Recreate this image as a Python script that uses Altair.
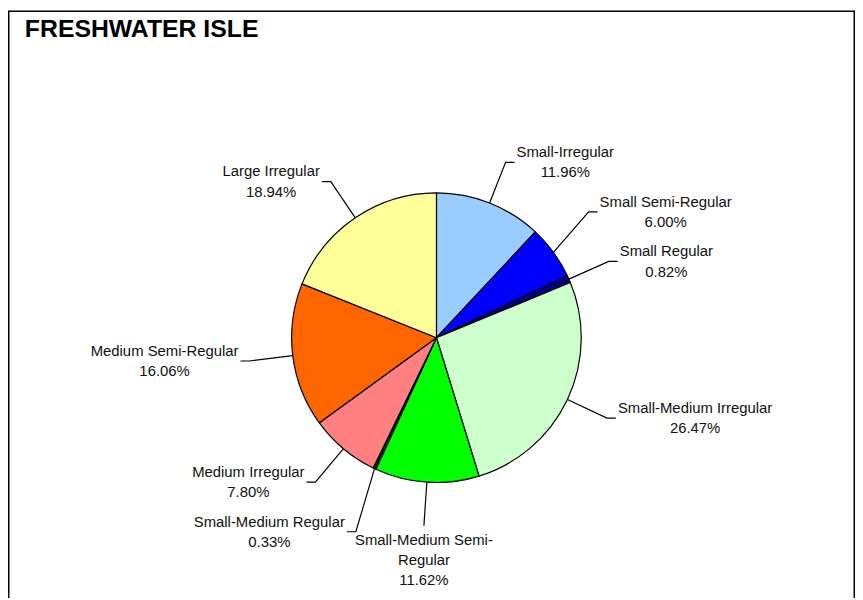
import math
import altair as alt
import pandas as pd

# ---- data ----
categories = [
    "Small-Irregular", "Small Semi-Regular", "Small Regular",
    "Small-Medium Irregular", "Small-Medium Semi-Regular", "Small-Medium Regular",
    "Medium Irregular", "Medium Semi-Regular", "Large Irregular",
]
shares = [11.96, 6.00, 0.82, 26.47, 11.62, 0.33, 7.80, 16.06, 18.94]
colors = ["#99CCFF", "#0000FF", "#000080", "#CCFFCC", "#00FF00", "#003300",
          "#FF8080", "#FF6600", "#FFFF99"]
title_text = "FRESHWATER ISLE"

# ---- layout / style ----
W, H = 854, 590
CX, CY, R = 432, 330, 146
RB = 190        # leader bend radius
TICK = 9        # horizontal leader tick
SEP = 50        # min vertical spacing of label blocks
FS = 15
LH = 20.5
FONT = "Liberation Sans, Arial, sans-serif"

ARIAL = {
    'a': 556, 'b': 556, 'c': 500, 'd': 556, 'e': 556, 'f': 278, 'g': 556, 'h': 556,
    'i': 222, 'j': 222, 'k': 500, 'l': 222, 'm': 833, 'n': 556, 'o': 556, 'p': 556,
    'q': 556, 'r': 333, 's': 500, 't': 278, 'u': 556, 'v': 500, 'w': 722, 'x': 500,
    'y': 500, 'z': 500, ' ': 278, '-': 333, '.': 278, '%': 889,
    'S': 667, 'M': 833, 'L': 556, 'I': 278, 'R': 722,
}


def text_w(s):
    return sum(ARIAL.get(ch, 556 if ch.isdigit() else 667) for ch in s) / 1000 * FS


total = sum(shares)
rows = []
cum = 0.0
for i, (c, v) in enumerate(zip(categories, shares)):
    mid = (cum + v / 2) / total * 2 * math.pi
    cum += v
    s, co = math.sin(mid), math.cos(mid)
    side = 1 if s > 0.2 else (-1 if s < -0.2 else 0)
    rows.append(dict(idx=i, cat=c, share=v, s=s, co=co, side=side,
                     ex=CX + R * s, ey=CY - R * co,
                     bx=CX + RB * s, by=CY - RB * co))

# simple vertical relaxation of labels on each side
for sd in (1, -1):
    lower = sorted([r for r in rows if r["side"] == sd and r["by"] >= CY], key=lambda r: r["by"])
    for k in range(1, len(lower)):
        if lower[k]["by"] < lower[k - 1]["by"] + SEP:
            lower[k]["by"] = lower[k - 1]["by"] + SEP
    upper = sorted([r for r in rows if r["side"] == sd and r["by"] < CY], key=lambda r: -r["by"])
    for k in range(1, len(upper)):
        if upper[k]["by"] > upper[k - 1]["by"] - SEP:
            upper[k]["by"] = upper[k - 1]["by"] - SEP

line_rows, text_rows = [], []
for r in rows:
    name = r["cat"]
    pct = f"{r['share']:.2f}%"
    if r["side"] == 0 and len(name) > 18 and "-" in name:
        cut = name.rfind("-") + 1
        lines = [name[:cut], name[cut:], pct]
    else:
        lines = [name, pct]
    n = len(lines)
    w = max(text_w(t) for t in lines)
    pts = [(r["ex"], r["ey"]), (r["bx"], r["by"])]
    if r["side"] != 0:
        pts.append((r["bx"] + r["side"] * TICK, r["by"]))
        tx = r["bx"] + r["side"] * (TICK + 2 + w / 2)
        ty = r["by"] - (n - 1) / 2 * LH      # first line position (block centred on tick)
    else:
        tx = r["bx"]
        ty = r["by"] + 14                    # block hangs below the leader
    for k, (px, py) in enumerate(pts):
        line_rows.append(dict(cat=r["cat"], pt=k, px=px, py=py))
    text_rows.append(dict(cat=r["cat"], label="\n".join(lines), tx=tx, ty=ty))

pie_df = pd.DataFrame([dict(idx=r["idx"], cat=r["cat"], share=r["share"]) for r in rows])
line_df = pd.DataFrame(line_rows)
text_df = pd.DataFrame(text_rows)
one = pd.DataFrame({"k": [0]})

frame = alt.Chart(one).mark_rect(fillOpacity=0, stroke="black", strokeWidth=1.5).encode(
    x=alt.value(0.75), x2=alt.value(W - 0.75), y=alt.value(0.75), y2=alt.value(H + 30)
)

title = alt.Chart(one).mark_text(
    text=title_text, font=FONT, fontSize=25, fontWeight="bold",
    align="left", baseline="alphabetic", color="black"
).encode(x=alt.value(17), y=alt.value(27))

pie = alt.Chart(pie_df).mark_arc(outerRadius=R, stroke="black", strokeWidth=1.2).encode(
    theta=alt.Theta("share:Q", stack=True),
    color=alt.Color("cat:N", scale=alt.Scale(domain=categories, range=colors), legend=None),
    order=alt.Order("idx:Q"),
    x=alt.value(CX), y=alt.value(CY),
)

leaders = alt.Chart(line_df).mark_line(color="black", strokeWidth=1.2).encode(
    x=alt.X("px:Q", scale=None, axis=None),
    y=alt.Y("py:Q", scale=None, axis=None),
    detail="cat:N",
    order="pt:Q",
)

labels = alt.Chart(text_df).mark_text(
    font=FONT, fontSize=FS, lineHeight=LH, lineBreak="\n",
    align="center", baseline="middle", color="#111111"
).encode(
    x=alt.X("tx:Q", scale=None, axis=None),
    y=alt.Y("ty:Q", scale=None, axis=None),
    text="label:N",
)

chart = alt.layer(frame, pie, leaders, labels, title).properties(
    width=W, height=H, padding=0,
    autosize=alt.AutoSizeParams(type="none"),
).configure_view(stroke=None)

chart.save("out.html", embed_options={"renderer": "svg", "actions": False})
